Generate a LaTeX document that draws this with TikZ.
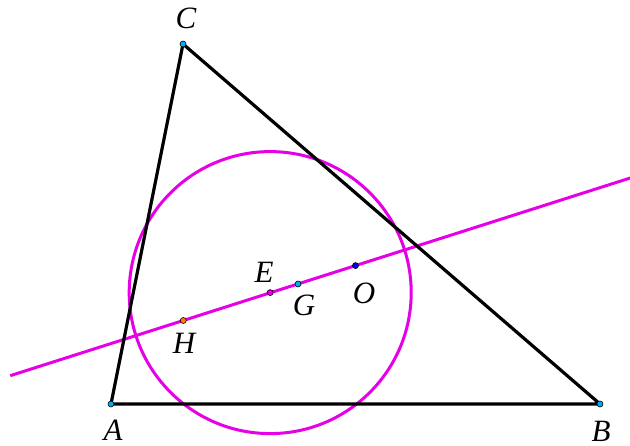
\documentclass[tikz,border=0pt]{standalone}
\usepackage{fontspec}
\setmainfont{Liberation Serif}
\usetikzlibrary{calc}
\begin{document}
\begin{tikzpicture}[x=1pt,y=-1pt,
  seg/.style={line width=3.2pt,black},
  euler/.style={line width=3pt,color=mag},
  pt/.style={circle,draw=black,line width=0.6pt,inner sep=0pt,minimum size=6pt},
  lab/.style={font=\fontsize{31}{31}\selectfont\itshape,inner sep=0pt}]
\definecolor{mag}{RGB}{230,0,230}
\useasboundingbox (0,0) rectangle (630,446);
\coordinate (A) at (111,404);
\coordinate (B) at (600,404);
\coordinate (C) at (183,44);
\coordinate (Hc) at (183.3,320.5);
\coordinate (Ec) at (270.2,292.6);
\coordinate (Gc) at (298,284);
\coordinate (Oc) at (355.5,265.6);
\coordinate (L1) at ($(Hc)!-1.005!(Oc)$);
\coordinate (L2) at ($(Hc)!2.6!(Oc)$);
\draw[euler] (Ec) circle (141);
\draw[euler] (L1) -- (L2);
\draw[seg,line join=round] (A) -- (B) -- (C) -- cycle;
\node[pt,fill=cyan] (pA) at (A) {};
\node[pt,fill=cyan] (pB) at (B) {};
\node[pt,fill=cyan] (pC) at (C) {};
\node[pt,fill=orange] (pH) at (Hc) {};
\node[pt,fill=mag] (pE) at (Ec) {};
\node[pt,fill=cyan] (pG) at (Gc) {};
\node[pt,fill=blue] (pO) at (Oc) {};
\node[lab] (tA) at (113,430) {A};
\node[lab] (tB) at (601,431) {B};
\node[lab] (tC) at (186,18) {C};
\node[lab] (tH) at (184,343) {H};
\node[lab] (tE) at (264,272) {E};
\node[lab] (tG) at (304,305) {G};
\node[lab] (tO) at (364,293) {O};
\end{tikzpicture}
\end{document}
